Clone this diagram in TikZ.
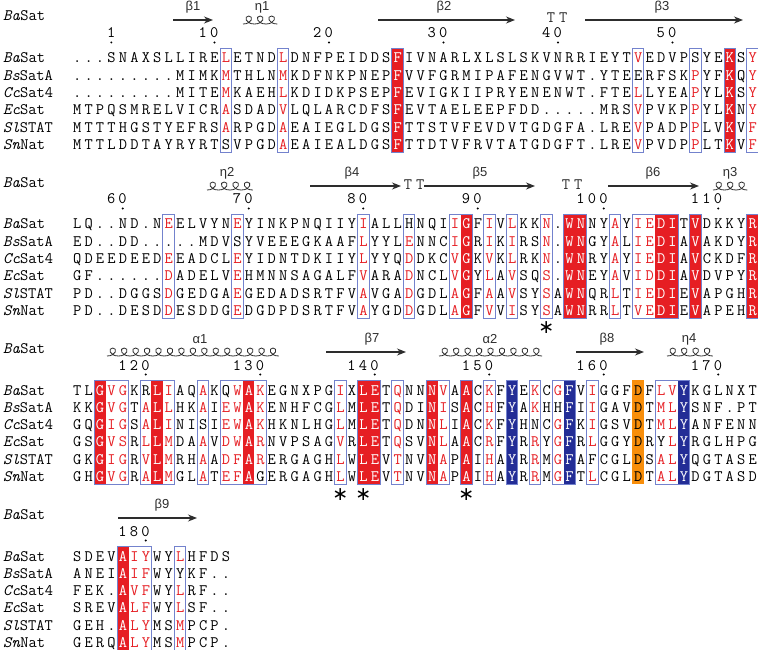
\documentclass[tikz,border=0pt]{standalone}
\usepackage{fontspec}
\newfontfamily\greekfont{Liberation Sans}
\newfontfamily\symfont{DejaVu Sans}
\usetikzlibrary{arrows.meta}

\definecolor{idred}{RGB}{230,30,35}
\definecolor{simblue}{RGB}{115,130,205}
\definecolor{navyfill}{RGB}{35,45,150}
\definecolor{orangefill}{RGB}{248,142,10}
\definecolor{ssgray}{RGB}{45,45,45}

\newlength\cw \setlength\cw{11.45pt}
\newcommand\colx[1]{59.825+11.45*#1}  % left edge of column
\newcommand\colc[1]{65.55+11.45*#1}   % centre of column
\newcommand\seqfont{\fontsize{16}{16}\selectfont\ttfamily\addfontfeatures{FakeBold=0.5}}

\makeatletter
\newcount\seq@col
\def\whitecols{}
% one residue per column: lower case = red letter, \whitecols = white letter
\newcommand\seqline[1]{\seq@col=0\relax
  \@tfor\seq@c:=#1\do{\advance\seq@col by 1\relax\expandafter\seq@put\seq@c\relax}}
\def\seq@put#1\relax{%
  \edef\seq@tmp{\noexpand\in@{,\the\seq@col,}{,\whitecols,}}\seq@tmp
  \ifin@\makebox[\cw]{\color{white}#1}%
  \else\ifnum`#1=\lccode`#1\relax\makebox[\cw]{\color{idred}\char\uccode`#1\relax}%
  \else\makebox[\cw]{#1}\fi\fi}
\newcommand\colline[1]{\@tfor\seq@c:=#1\do{\makebox[\cw]{\seq@c}}}
\makeatother

% helix: #1 = start x, #2 = bottom y, #3 = number of turns
\newcommand\helixloops[3]{%
  \foreach \i in {1,...,#3}{
    \pgfmathsetmacro\hx{#1+(\i-1)*11.45}
    \draw[helix] (\hx,#2) .. controls ({\hx+9.2},#2) and ({\hx+10.9},{#2-8}) .. ({\hx+5.7},{#2-8})
                 .. controls ({\hx+0.6},{#2-8}) and ({\hx+2.3},#2) .. ({\hx+11.45},#2);
  }}

\begin{document}
\begin{tikzpicture}[x=1pt, y=-1pt,
  seq/.style    = {inner sep=0pt, anchor=base west, font=\seqfont},
  lab/.style    = {inner sep=0pt, anchor=base west, font=\seqfont},
  num/.style    = {inner sep=0pt, anchor=base east, font=\seqfont},
  tt/.style     = {inner sep=0pt, font=\seqfont, text=ssgray},
  sslab/.style  = {inner sep=0pt, font=\fontsize{13}{13}\selectfont\greekfont, text=ssgray},
  strand/.style = {draw=ssgray, line width=1.2pt, -{Stealth[length=9pt,width=7pt]}},
  helix/.style  = {draw=ssgray, line width=0.8pt},
  frame/.style  = {draw=simblue, line width=0.8pt},
  star/.style   = {inner sep=0pt, font=\fontsize{19}{19}\selectfont\symfont},
]
\fill[white] (0,0) rectangle (758,650);
\useasboundingbox (0,0) rectangle (758,650);

% ---------------- block 1 ----------------
\node[lab] (hd1) at (3,21) {\textit{Ba}Sat};
\draw[strand] (173,20) -- (213,20);  \node[sslab] (b1) at (193,7) {β1};
\helixloops{243}{24}{3}               \node[sslab] (e1) at (262,7) {η1};
\draw[strand] (378,20) -- (515,20);  \node[sslab] (b2) at (444,7) {β2};
\node[tt] (t1) at (557,18) {T\hspace{4pt}T};
\draw[strand] (585,20) -- (743,20);  \node[sslab] (b3) at (662,7) {β3};
\foreach \nb/\q in {1/4,10/13,20/23,30/33,40/43,50/53}{
  \node[num] (k\nb) at ({\colx{\q}+11.45},38) {\expandafter\colline\expandafter{\nb}};
  \fill ({\colc{\q}},42.5) circle (1.1);
}
\def\whitecols{29,58}
\foreach \q in {29,58} \fill[idred] ({\colx{\q}},48) rectangle ++(11.45,104);
\foreach \fa/\fb in {14/14,19/19,29/29,50/50,55/55,58/58,60/60}
  \draw[frame] ({\colx{\fa}},48) rectangle ({\colx{\fb}+11.45},152);
\foreach \gen/\rest [count=\rw] in {Ba/Sat,Bs/SatA,Cc/Sat4,Ec/Sat,Sl/STAT,Sn/Nat}
  \node[lab] (l1\rw) at (3,{63+17.3*(\rw-1)}) {\textit{\gen}\rest};
\node[seq] (r11) at ({\colx{1}},63)    {\seqline{...SNAXSLLIRElETNDlDNFPEIDDSFIVNARLXLSLSKVNRRIEYTvEDVPSYEKSy}};
\node[seq] (r12) at ({\colx{1}},80.3)  {\seqline{.........MIMKmTHLNmKDFNKPNEPFVVFGRMIPAFENGVWT.YTEERFSKpYFKQy}};
\node[seq] (r13) at ({\colx{1}},97.6)  {\seqline{.........MITEmKAEHlKDIDKPSEPFEVIGKIIPRYENENWT.FTElLYEApYLKSy}};
\node[seq] (r14) at ({\colx{1}},114.9) {\seqline{MTPQSMRELVICRaSDADvLQLARCDFSFEVTAELEEPFDD.....MRSvPVKPpYLKNy}};
\node[seq] (r15) at ({\colx{1}},132.2) {\seqline{MTTTHGSTYEFRSaRPGDaEAIEGLDGSFTTSTVFEVDVTGDGFA.LREvPADPpLVKVf}};
\node[seq] (r16) at ({\colx{1}},149.5) {\seqline{MTTLDDTAYRYRTSVPGDaEAIEALDGSFTTDTVFRVTATGDGFT.LREvPVDPpLTKVf}};

% ---------------- block 2 ----------------
\node[lab] (hd2) at (3,187) {\textit{Ba}Sat};
\helixloops{207}{190}{4}              \node[sslab] (e2) at (227,173) {η2};
\draw[strand] (310,186) -- (401,186);  \node[sslab] (b4) at (352,173) {β4};
\node[tt] (t2) at (414,185) {T\hspace{4pt}T};
\draw[strand] (424,186) -- (535,186);  \node[sslab] (b5) at (480,173) {β5};
\node[tt] (t3) at (572,185) {T\hspace{4pt}T};
\draw[strand] (608,186) -- (699,186);  \node[sslab] (b6) at (653,173) {β6};
\helixloops{713}{190}{3}              \node[sslab] (e3) at (730,173) {η3};
\foreach \nb/\q in {60/5,70/16,80/26,90/36,100/47,110/57}{
  \node[num] (k\nb) at ({\colx{\q}+11.45},204) {\expandafter\colline\expandafter{\nb}};
  \fill ({\colc{\q}},208.5) circle (1.1);
}
\def\whitecols{35,44,45,52,53,55,60}
\foreach \q in {35,44,45,52,53,55,60} \fill[idred] ({\colx{\q}},214) rectangle ++(11.45,104);
\foreach \fa/\fb in {9/9,15/15,26/26,30/30,34/35,37/37,39/39,42/42,44/45,48/48,50/53,55/55,60/60}
  \draw[frame] ({\colx{\fa}},214) rectangle ({\colx{\fb}+11.45},318);
\foreach \gen/\rest [count=\rw] in {Ba/Sat,Bs/SatA,Cc/Sat4,Ec/Sat,Sl/STAT,Sn/Nat}
  \node[lab] (l2\rw) at (3,{229+17.3*(\rw-1)}) {\textit{\gen}\rest};
\node[seq] (r21) at ({\colx{1}},229)   {\seqline{LQ..ND.NeELVYNeYINKPNQIIYiALLHNQIiGFiVlKKn.WNNYaYieDITVDKKYR}};
\node[seq] (r22) at ({\colx{1}},246.3) {\seqline{ED..DD.....MDVSYVEEEGKAAFlYYLeNNCiGRiKiRSn.WNGYaLieDIAVAKDYR}};
\node[seq] (r23) at ({\colx{1}},263.6) {\seqline{QDEEDEEDeEADCLeYIDNTDKIIYlYYQdDKCvGKvKlRKn.WNRYaYieDIAVCKDFR}};
\node[seq] (r24) at ({\colx{1}},280.9) {\seqline{GF......dADELVeHMNNSAGALFvARAdNCLvGYlAvSQs.WNEYaVidDIAVDVPYR}};
\node[seq] (r25) at ({\colx{1}},298.2) {\seqline{PD..DGGSdGEDGAeGEDADSRTFVaVGAdGDLaGFaAvSYsAWNQRlTieDIEVAPGHR}};
\node[seq] (r26) at ({\colx{1}},315.5) {\seqline{PD..DESDdESDDGeDGDPDSRTFVaYGDdGDLaGFvViSYsAWNRRlTveDIEVAPEHR}};
\node[star] (s1) at ({\colc{42}},328) {∗};

% ---------------- block 3 ----------------
\node[lab] (hd3) at (3,353) {\textit{Ba}Sat};
\helixloops{107}{356}{15}             \node[sslab] (a1) at (200,339) {α1};
\draw[strand] (326,352) -- (406,352);  \node[sslab] (b7) at (372,339) {β7};
\helixloops{439}{356}{9}              \node[sslab] (a2) at (490,339) {α2};
\draw[strand] (576,352) -- (644,352);  \node[sslab] (b8) at (607,339) {β8};
\helixloops{667}{356}{4}              \node[sslab] (e4) at (689,339) {η4};
\foreach \nb/\q in {120/7,130/17,140/27,150/37,160/47,170/57}{
  \node[num] (k\nb) at ({\colx{\q}+11.45},370) {\expandafter\colline\expandafter{\nb}};
  \fill ({\colc{\q}},374.5) circle (1.1);
}
\def\whitecols{3,8,16,26,27,32,35,39,44,54}
\foreach \q in {3,8,16,26,27,32,35} \fill[idred] ({\colx{\q}},380) rectangle ++(11.45,104);
\foreach \q in {39,44,54} \fill[navyfill] ({\colx{\q}},380) rectangle ++(11.45,104);
\fill[orangefill] ({\colx{50}},380) rectangle ++(11.45,104);
\foreach \fa/\fb in {3/5,7/9,12/12,14/17,24/24,26/27,29/29,32/33,35/35,37/37,39/39,41/41,43/44,46/46,52/54}
  \draw[frame] ({\colx{\fa}},380) rectangle ({\colx{\fb}+11.45},484);
\foreach \gen/\rest [count=\rw] in {Ba/Sat,Bs/SatA,Cc/Sat4,Ec/Sat,Sl/STAT,Sn/Nat}
  \node[lab] (l3\rw) at (3,{395+17.3*(\rw-1)}) {\textit{\gen}\rest};
\node[seq] (r31) at ({\colx{1}},395)   {\seqline{TLGvgKRLiAQaKQwAkEGNXPGiXLETqNNNvAACkFYEkCgFViGGFDFlvYKGLNXT}};
\node[seq] (r32) at ({\colx{1}},412.3) {\seqline{KKGvgTaLlHKaIewAkENHFCGlMLETqDINiSAChFYAkHHFIiGAVDTmlYSNF.PT}};
\node[seq] (r33) at ({\colx{1}},429.6) {\seqline{GQGigSaLiNISIewAkHKNLHGlMLETqDNNlIACkFYHNCgFKiGSVDTmlYANFENN}};
\node[seq] (r34) at ({\colx{1}},446.9) {\seqline{GSGvsRlLmDAaVdwArNVPSAGvRLETqSVNlAACrFYRrYgFRlGGYDRYlYRGLHPG}};
\node[seq] (r35) at ({\colx{1}},464.2) {\seqline{GKGigRvLmRHaAdfArERGAGHlWLEVtNVNaPAIhAYRrMgFAFCGLDSalYQGTASE}};
\node[seq] (r36) at ({\colx{1}},481.5) {\seqline{GHGvgRaLmGLaTefAGERGAGHlWLEVtNVNaPAIhAYRrMgFTlCGLDTalYDGTASD}};
\foreach \q [count=\rw] in {24,26,35}
  \node[star] (s2\rw) at ({\colc{\q}},495) {∗};

% ---------------- block 4 ----------------
\node[lab] (hd4) at (3,519) {\textit{Ba}Sat};
\draw[strand] (118,518) -- (197,518); \node[sslab] (b9) at (162,505) {β9};
\node[num] (k180) at ({\colx{7}+11.45},536) {\colline{180}};
\fill ({\colc{7}},540.5) circle (1.1);
\def\whitecols{5}
\fill[idred] ({\colx{5}},546) rectangle ++(11.45,104);
\foreach \fa/\fb in {5/7,10/10}
  \draw[frame] ({\colx{\fa}},546) rectangle ({\colx{\fb}+11.45},650);
\foreach \gen/\rest [count=\rw] in {Ba/Sat,Bs/SatA,Cc/Sat4,Ec/Sat,Sl/STAT,Sn/Nat}
  \node[lab] (l4\rw) at (3,{561+17.3*(\rw-1)}) {\textit{\gen}\rest};
\node[seq] (r41) at ({\colx{1}},561)   {\seqline{SDEVAiyWYlHFDS}};
\node[seq] (r42) at ({\colx{1}},578.3) {\seqline{ANEIAifWYYKF..}};
\node[seq] (r43) at ({\colx{1}},595.6) {\seqline{FEK.AvfWYlRF..}};
\node[seq] (r44) at ({\colx{1}},612.9) {\seqline{SREVAlfWYlSF..}};
\node[seq] (r45) at ({\colx{1}},630.2) {\seqline{GEH.AlyMSmPCP.}};
\node[seq] (r46) at ({\colx{1}},647.5) {\seqline{GERQAlyMSmPCP.}};
\end{tikzpicture}
\end{document}
